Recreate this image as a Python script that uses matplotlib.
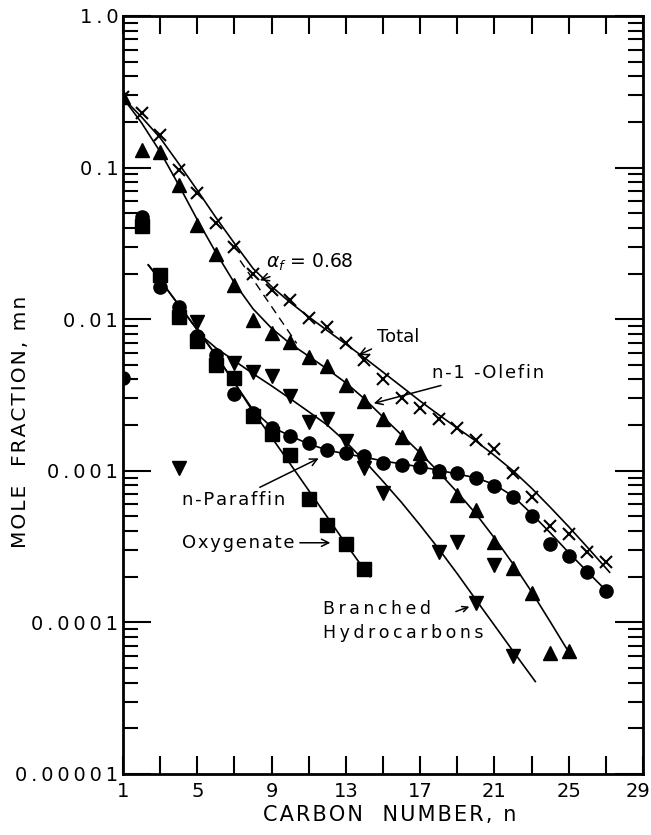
import numpy as np
import matplotlib
matplotlib.use("Agg")
import matplotlib.pyplot as plt
import matplotlib.transforms as mtransforms
from matplotlib.ticker import FixedLocator, LogLocator, NullFormatter, FixedFormatter

plt.rcParams['font.family'] = ['DejaVu Sans']

# ---- data points (carbon number n, mole fraction mn) ----
total_n = [1, 2, 3, 4, 5, 6, 7, 8, 9, 10, 11, 12, 13, 14, 15, 16, 17, 18, 19, 20, 21, 22, 23, 24, 25, 26, 27]
total_y = [0.29, 0.228, 0.164, 0.096, 0.068, 0.043, 0.030, 0.020, 0.0156, 0.0134, 0.0101, 0.0089, 0.0070,
           0.0054, 0.0040, 0.0030, 0.0026, 0.0022, 0.0019, 0.0016, 0.0014, 0.00097, 0.00067, 0.00043,
           0.00038, 0.00029, 0.00025]

olefin_n = [1, 2, 3, 4, 5, 6, 7, 8, 9, 10, 11, 12, 13, 14, 15, 16, 17, 18, 19, 20, 21, 22, 23, 24, 25]
olefin_y = [0.29, 0.131, 0.127, 0.077, 0.042, 0.027, 0.0168, 0.0099, 0.0081, 0.0071, 0.0056, 0.0049, 0.0037,
            0.0029, 0.0022, 0.00166, 0.0013, 0.00099, 0.00069, 0.00055, 0.00034, 0.00023, 0.000156,
            6.3e-5, 6.5e-5]

paraffin_n = [1, 2, 3, 4, 5, 6, 7, 8, 9, 10, 11, 12, 13, 14, 15, 16, 17, 18, 19, 20, 21, 22, 23, 24, 25, 26, 27]
paraffin_y = [0.0041, 0.047, 0.0164, 0.0121, 0.0078, 0.0058, 0.0032, 0.0024, 0.0019, 0.0017, 0.00152,
              0.00137, 0.0013, 0.00125, 0.00112, 0.00109, 0.00106, 0.00099, 0.00096, 0.00089, 0.00079,
              0.00067, 0.0005, 0.00033, 0.000275, 0.000216, 0.000162]

oxy_n = [2, 3, 4, 5, 6, 7, 8, 9, 10, 11, 12, 13, 14]
oxy_y = [0.041, 0.0196, 0.0104, 0.0072, 0.0050, 0.0041, 0.0023, 0.00175, 0.00127, 0.00065, 0.00044,
         0.00033, 0.000225]

branched_n = [4, 5, 7, 8, 9, 10, 11, 12, 13, 14, 15, 18, 19, 20, 21, 22]
branched_y = [0.00104, 0.0096, 0.0051, 0.0045, 0.0042, 0.0031, 0.0021, 0.0022, 0.00156, 0.00104, 0.00071,
              0.00029, 0.00034, 0.000134, 0.00024, 6.0e-5]

# ---- smooth curves ----
total_fit_n = [1, 2, 3, 4, 5, 6, 7, 8, 9, 10, 11, 12, 13, 14, 15, 16, 17, 18, 19, 20, 21, 22, 23, 24, 25, 26, 27.2]
total_fit_y = [0.288, 0.215, 0.157, 0.106, 0.0708, 0.0468, 0.0316, 0.0216, 0.0164, 0.0129, 0.01035, 0.0084,
               0.00684, 0.00556, 0.00447, 0.00359, 0.00288, 0.00234, 0.00191, 0.00157, 0.00126, 0.0010,
               0.000767, 0.000575, 0.000427, 0.000313, 0.000214]

olefin_fit_n = [1, 2, 3, 4, 5, 6, 7, 8, 9, 10, 11, 12, 13, 14, 15, 16, 17, 18, 19, 20, 21, 22, 23, 24, 25.2]
olefin_fit_y = [0.288, 0.197, 0.127, 0.0767, 0.0452, 0.0275, 0.0173, 0.0117, 0.0087, 0.0069, 0.00569,
                0.00468, 0.0038, 0.00298, 0.00226, 0.00172, 0.00131, 0.00098, 0.00072, 0.00052, 0.00036,
                0.000243, 0.000159, 0.000101, 5.8e-5]

paraffin_fit_n = [2.36, 3, 4, 5, 6, 7, 8, 9, 10, 11, 12, 13, 14, 15, 16, 17, 18, 19, 20, 21, 22, 23, 24, 25, 26, 27.1]
paraffin_fit_y = [0.0228, 0.0181, 0.0124, 0.0085, 0.0058, 0.0038, 0.00252, 0.00194, 0.0017, 0.0015, 0.00137,
                  0.00129, 0.00123, 0.00116, 0.00111, 0.00106, 0.00101, 0.00095, 0.0009, 0.00081, 0.00068,
                  0.00052, 0.00039, 0.000288, 0.000216, 0.000158]

oxy_fit_n = [2.36, 3, 4, 5, 6, 7, 8, 9, 10, 11, 12, 13, 14, 14.3]
oxy_fit_y = [0.0228, 0.0181, 0.0124, 0.0085, 0.0058, 0.0038, 0.00245, 0.00166, 0.00111, 0.000741, 0.000495,
             0.000329, 0.000222, 0.0002]

branched_fit_n = [5.3, 6, 7, 8, 9, 10, 11, 12, 13, 14, 15, 16, 17, 18, 19, 20, 21, 22, 23.2]
branched_fit_y = [0.00764, 0.00646, 0.00531, 0.00437, 0.00363, 0.00299, 0.00245, 0.002, 0.00155, 0.00116,
                  0.000851, 0.000617, 0.000437, 0.000305, 0.000209, 0.000141, 9.55e-5, 6.46e-5, 4.07e-5]

# ASF line, alpha = 0.68 (dashed)
asf_n = [7.3, 10.35]
asf_y = [0.0244, 0.00692]

ytick_vals = [1e-5, 1e-4, 1e-3, 1e-2, 1e-1, 1.0]
ytick_labels = ['0.00001', '0.0001', '0.001', '0.01', '0.1', '1.0']
xtick_vals = [1, 5, 9, 13, 17, 21, 25, 29]


def spaced(s, sep='\u2009'):
    # wide letter spacing like the old typeset figure
    return sep.join(s)


fig = plt.figure(figsize=(6.51, 8.35), dpi=100)
ax = fig.add_axes([0.189, 0.0731, 0.7988, 0.9078])
ax.set_yscale('log')
ax.set_xlim(1, 29)
ax.set_ylim(1e-5, 1.0)

lw = 1.2
ax.plot(total_fit_n, total_fit_y, color='black', lw=lw)
ax.plot(olefin_fit_n, olefin_fit_y, color='black', lw=lw)
ax.plot(paraffin_fit_n, paraffin_fit_y, color='black', lw=lw)
ax.plot(oxy_fit_n, oxy_fit_y, color='black', lw=lw)
ax.plot(branched_fit_n, branched_fit_y, color='black', lw=lw)
ax.plot(asf_n, asf_y, color='black', lw=1.0, dashes=(6, 4))

ax.plot(oxy_n, oxy_y, 's', color='black', ms=9.5, ls='none')
ax.plot(paraffin_n, paraffin_y, 'o', color='black', ms=9.5, ls='none')
ax.plot(olefin_n, olefin_y, '^', color='black', ms=10.5, ls='none')
ax.plot(branched_n, branched_y, 'v', color='black', ms=10.5, ls='none')
ax.plot(total_n, total_y, 'x', color='black', ms=8, mew=1.5, ls='none')

# ticks
ax.yaxis.set_major_locator(FixedLocator(ytick_vals))
ax.yaxis.set_major_formatter(FixedFormatter([spaced(t) for t in ytick_labels]))
ax.yaxis.set_minor_locator(LogLocator(base=10, subs=np.arange(2, 10), numticks=20))
ax.yaxis.set_minor_formatter(NullFormatter())
ax.xaxis.set_major_locator(FixedLocator(xtick_vals))
ax.xaxis.set_minor_locator(FixedLocator(list(range(3, 29, 4))))

ax.tick_params(axis='both', which='both', direction='in', top=True, right=True, width=1.5, labelsize=14)
ax.tick_params(axis='y', which='major', length=20)
ax.tick_params(axis='y', which='minor', length=11)
ax.tick_params(axis='x', which='both', length=13)
ax.tick_params(axis='x', which='major', pad=6)
for s in ax.spines.values():
    s.set_linewidth(2)

# keep the last x label ("29") inside the figure
last = ax.get_xticklabels()[-1]
last.set_transform(last.get_transform() + mtransforms.ScaledTranslation(-5 / 100, 0, fig.dpi_scale_trans))

fig.text(0.031, 0.495, spaced('MOLE  FRACTION, mn', '\u200a'), rotation=90, ha='center', va='center',
         fontsize=14.5)
fig.text(0.598, 0.024, spaced('CARBON  NUMBER, n', '\u200a'), ha='center', va='center', fontsize=15)

# annotations
fs = 13
ap = dict(arrowstyle='->', color='black', lw=1.1)
ax.annotate(r'$\alpha_f$ = 0.68', xy=(0.258, 0.650), xytext=(0.275, 0.675), xycoords='axes fraction',
            textcoords='axes fraction', fontsize=13.5, va='center', arrowprops=ap)
ax.annotate('Total', xy=(0.448, 0.551), xytext=(0.488, 0.577), xycoords='axes fraction',
            textcoords='axes fraction', fontsize=fs, va='center', arrowprops=ap)
ax.annotate(spaced('n-1 -Olefin', '\u200a').replace('1 ', '1  '), xy=(0.477, 0.488), xytext=(0.594, 0.529),
            xycoords='axes fraction', textcoords='axes fraction', fontsize=fs, va='center', arrowprops=ap)
ax.annotate(spaced('n-Paraffin', '\u200a'), xy=(0.381, 0.418), xytext=(0.113, 0.361),
            xycoords='axes fraction', textcoords='axes fraction', fontsize=fs, va='center', arrowprops=ap)
ax.annotate(spaced('Oxygenate', '\u200a'), xy=(0.404, 0.305), xytext=(0.113, 0.305), xycoords='axes fraction',
            textcoords='axes fraction', fontsize=fs, va='center', arrowprops=ap)
ax.text(0.385, 0.218, spaced('Branched'), transform=ax.transAxes, fontsize=12.5, va='center')
ax.text(0.385, 0.186, spaced('Hydrocarbons'), transform=ax.transAxes, fontsize=12.5, va='center')
ax.annotate('', xy=(0.671, 0.222), xytext=(0.635, 0.213), xycoords='axes fraction',
            textcoords='axes fraction', arrowprops=ap)

fig.savefig('out.png', dpi=100)
